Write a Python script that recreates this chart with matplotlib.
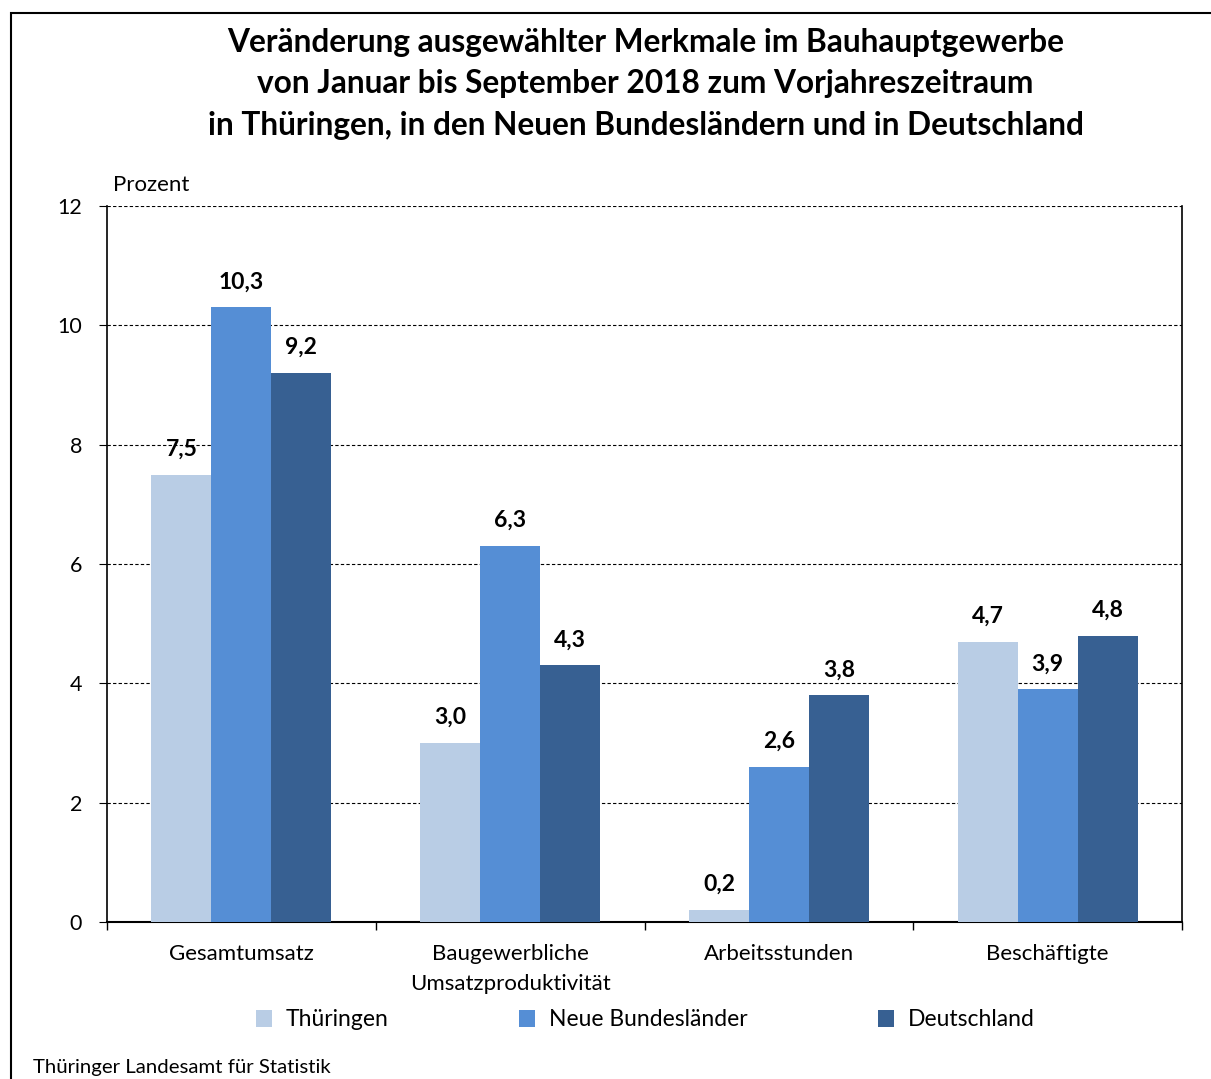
import numpy as np
import matplotlib.pyplot as plt
from matplotlib.patches import Rectangle

plt.rcParams['font.family'] = ['Lato', 'DejaVu Sans']

# data
categories = ['Gesamtumsatz', 'Baugewerbliche\nUmsatzproduktivität', 'Arbeitsstunden', 'Beschäftigte']
series = ['Thüringen', 'Neue Bundesländer', 'Deutschland']
thueringen = [7.5, 3.0, 0.2, 4.7]
neue_laender = [10.3, 6.3, 2.6, 3.9]
deutschland = [9.2, 4.3, 3.8, 4.8]
colors = ['#B9CDE5', '#558ED5', '#376092']

fig = plt.figure(figsize=(12.11, 10.79), dpi=100)
# outer frame
fig.add_artist(Rectangle((11 / 1211, -0.01), 1.02, (1079 - 13) / 1079 + 0.01,
                         transform=fig.transFigure, fill=False, lw=1.5, ec='black'))

ax = fig.add_axes([107 / 1211, 1 - 922 / 1079, (1182 - 107) / 1211, (922 - 206) / 1079])

x = np.arange(len(categories))
w = 0.223
for i, (vals, name) in enumerate(zip([thueringen, neue_laender, deutschland], series)):
    pos = x + (i - 1) * w
    ax.bar(pos, vals, w, color=colors[i], label=name, zorder=3)
    for p, v in zip(pos, vals):
        ax.text(p, v + 0.25, f'{v:.1f}'.replace('.', ','), ha='center', va='bottom',
                fontsize=16.5, fontweight='bold', zorder=4)

ax.set_xlim(-0.5, len(categories) - 0.5)
ax.set_ylim(0, 12)
ax.set_yticks(range(0, 13, 2))
ax.yaxis.grid(True, ls=(0, (3, 2)), color='black', lw=0.8, zorder=0)
ax.set_axisbelow(True)
ax.set_xticks(x)
ax.set_xticklabels(categories, fontsize=16, linespacing=1.6)
ax.tick_params(axis='x', length=0, pad=16)
ax.set_xticks(np.arange(-0.5, len(categories)), minor=True)
ax.tick_params(axis='x', which='minor', length=6, width=1)
ax.tick_params(axis='y', labelsize=15.5, length=6, pad=12)
ax.spines['top'].set_visible(False)
for s in ['left', 'right', 'bottom']:
    ax.spines[s].set_linewidth(1.2)
ax.spines['bottom'].set_linewidth(1.5)

ax.text(0.006, 1.015, 'Prozent', transform=ax.transAxes, fontsize=16, va='bottom', ha='left')

fig.text(0.533, 1 - 84 / 1079, 'Veränderung ausgewählter Merkmale im Bauhauptgewerbe\n'
         'von Januar bis September 2018 zum Vorjahreszeitraum\n'
         'in Thüringen, in den Neuen Bundesländern und in Deutschland',
         ha='center', va='center', fontsize=22.8, fontweight='bold', linespacing=1.52)

handles, labels = ax.get_legend_handles_labels()
fig.legend(handles, labels, loc='center', bbox_to_anchor=(0.533, 1 - 1020 / 1079),
           ncol=3, frameon=False, fontsize=16.5, handlelength=0.7, handleheight=0.7,
           columnspacing=5.7, handletextpad=0.6)

fig.text(33 / 1211, 1 - 1068 / 1079, 'Thüringer Landesamt für Statistik', fontsize=14.7,
         ha='left', va='center')

fig.savefig('out.png', dpi=100)
